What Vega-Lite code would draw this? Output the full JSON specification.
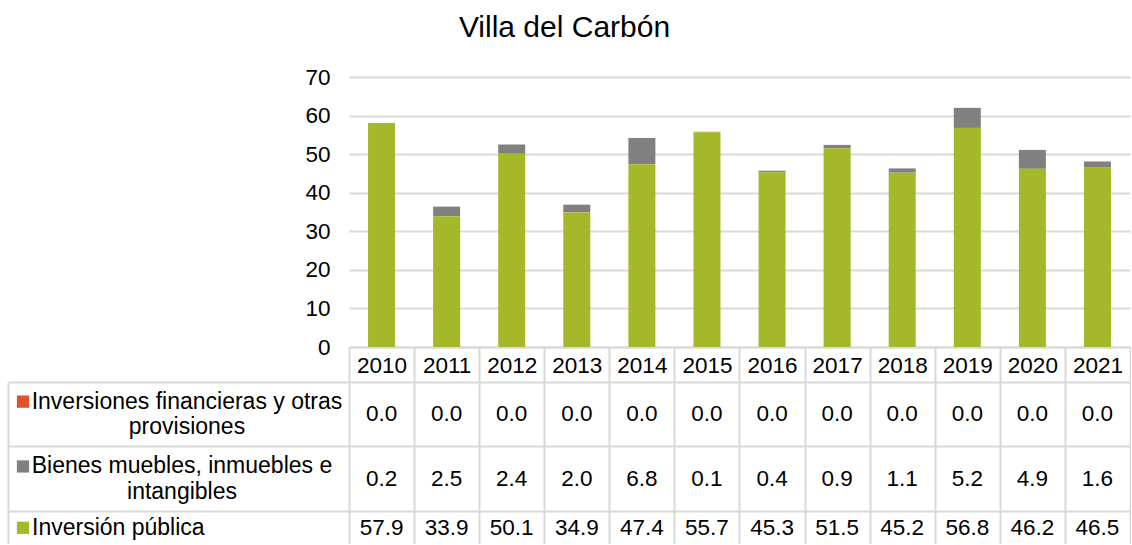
{
  "$schema": "https://vega.github.io/schema/vega-lite/v6.json",
  "padding": {"left": 8, "top": 13, "right": 0, "bottom": 0},
  "bounds": "flush",
  "columns": 2,
  "spacing": {"row": 35, "column": 0},
  "title": {"text": "Villa del Carbón", "fontSize": 30, "fontWeight": "normal", "color": "#000000", "anchor": "middle", "baseline": "alphabetic", "offset": -1, "dx": -5, "font": "Liberation Sans"},
  "config": {
    "font": "Liberation Sans",
    "view": {"stroke": null},
    "axis": {"labelColor": "#000000", "labelFont": "Liberation Sans"}
  },
  "datasets": {
    "d": [
      {"year": 2010, "serie": "Inversiones financieras y otras\nprovisiones", "value": 0.0},
      {"year": 2011, "serie": "Inversiones financieras y otras\nprovisiones", "value": 0.0},
      {"year": 2012, "serie": "Inversiones financieras y otras\nprovisiones", "value": 0.0},
      {"year": 2013, "serie": "Inversiones financieras y otras\nprovisiones", "value": 0.0},
      {"year": 2014, "serie": "Inversiones financieras y otras\nprovisiones", "value": 0.0},
      {"year": 2015, "serie": "Inversiones financieras y otras\nprovisiones", "value": 0.0},
      {"year": 2016, "serie": "Inversiones financieras y otras\nprovisiones", "value": 0.0},
      {"year": 2017, "serie": "Inversiones financieras y otras\nprovisiones", "value": 0.0},
      {"year": 2018, "serie": "Inversiones financieras y otras\nprovisiones", "value": 0.0},
      {"year": 2019, "serie": "Inversiones financieras y otras\nprovisiones", "value": 0.0},
      {"year": 2020, "serie": "Inversiones financieras y otras\nprovisiones", "value": 0.0},
      {"year": 2021, "serie": "Inversiones financieras y otras\nprovisiones", "value": 0.0},
      {"year": 2010, "serie": "Bienes muebles, inmuebles e\nintangibles", "value": 0.2},
      {"year": 2011, "serie": "Bienes muebles, inmuebles e\nintangibles", "value": 2.5},
      {"year": 2012, "serie": "Bienes muebles, inmuebles e\nintangibles", "value": 2.4},
      {"year": 2013, "serie": "Bienes muebles, inmuebles e\nintangibles", "value": 2.0},
      {"year": 2014, "serie": "Bienes muebles, inmuebles e\nintangibles", "value": 6.8},
      {"year": 2015, "serie": "Bienes muebles, inmuebles e\nintangibles", "value": 0.1},
      {"year": 2016, "serie": "Bienes muebles, inmuebles e\nintangibles", "value": 0.4},
      {"year": 2017, "serie": "Bienes muebles, inmuebles e\nintangibles", "value": 0.9},
      {"year": 2018, "serie": "Bienes muebles, inmuebles e\nintangibles", "value": 1.1},
      {"year": 2019, "serie": "Bienes muebles, inmuebles e\nintangibles", "value": 5.2},
      {"year": 2020, "serie": "Bienes muebles, inmuebles e\nintangibles", "value": 4.9},
      {"year": 2021, "serie": "Bienes muebles, inmuebles e\nintangibles", "value": 1.6},
      {"year": 2010, "serie": "Inversión pública", "value": 57.9},
      {"year": 2011, "serie": "Inversión pública", "value": 33.9},
      {"year": 2012, "serie": "Inversión pública", "value": 50.1},
      {"year": 2013, "serie": "Inversión pública", "value": 34.9},
      {"year": 2014, "serie": "Inversión pública", "value": 47.4},
      {"year": 2015, "serie": "Inversión pública", "value": 55.7},
      {"year": 2016, "serie": "Inversión pública", "value": 45.3},
      {"year": 2017, "serie": "Inversión pública", "value": 51.5},
      {"year": 2018, "serie": "Inversión pública", "value": 45.2},
      {"year": 2019, "serie": "Inversión pública", "value": 56.8},
      {"year": 2020, "serie": "Inversión pública", "value": 46.2},
      {"year": 2021, "serie": "Inversión pública", "value": 46.5}
    ],
    "labels": [
      {"serie": "Inversiones financieras y otras\nprovisiones"},
      {"serie": "Bienes muebles, inmuebles e\nintangibles"},
      {"serie": "Inversión pública"}
    ]
  },
  "concat": [
    {
      "width": 341, "height": 270,
      "data": {"values": []},
      "mark": "text",
      "encoding": {}
    },
    {
      "width": 781, "height": 270,
      "data": {"name": "d"},
      "mark": {"type": "bar", "width": {"band": 0.415}},
      "encoding": {
        "x": {
          "field": "year", "type": "ordinal",
          "scale": {"type": "band", "paddingInner": 0, "paddingOuter": 0},
          "axis": {"title": null, "labelAngle": 0, "labelFontSize": 22.5, "labelBaseline": "middle", "labelPadding": -17,
                   "domain": true, "domainColor": "#d9d9d9", "domainWidth": 2,
                   "ticks": true, "tickBand": "extent", "tickSize": 35, "tickColor": "#d9d9d9", "tickWidth": 2,
                   "grid": false}
        },
        "y": {
          "field": "value", "type": "quantitative",
          "scale": {"domain": [0, 70], "nice": false},
          "axis": {"title": null, "values": [0, 10, 20, 30, 40, 50, 60, 70], "labelFontSize": 22.5, "labelPadding": 19,
                   "domain": false, "ticks": false, "grid": true, "gridColor": "#d9d9d9", "gridWidth": 2}
        },
        "color": {
          "field": "serie", "type": "nominal",
          "scale": {"domain": ["Inversiones financieras y otras\nprovisiones", "Bienes muebles, inmuebles e\nintangibles", "Inversión pública"],
                    "range": ["#E0522A", "#808080", "#A5B82A"]},
          "legend": null
        },
        "order": {"field": "value", "type": "quantitative", "sort": "descending"}
      }
    },
    {
      "width": 341, "height": 162,
      "data": {"name": "labels"},
      "encoding": {
        "y": {
          "field": "serie", "type": "nominal",
          "scale": {"type": "band", "paddingInner": 0, "paddingOuter": 0,
                    "domain": ["Inversiones financieras y otras\nprovisiones", "_a", "Bienes muebles, inmuebles e\nintangibles", "_b", "Inversión pública"]},
          "axis": {"title": null, "labels": false, "ticks": false, "domain": true, "domainColor": "#d9d9d9", "domainWidth": 2,
                   "grid": true, "gridColor": "#d9d9d9", "gridWidth": 2, "bandPosition": 0,
                   "values": ["Inversiones financieras y otras\nprovisiones", "Bienes muebles, inmuebles e\nintangibles", "Inversión pública"]}
        }
      },
      "layer": [
        {
          "transform": [{"filter": {"field": "serie", "equal": "Inversiones financieras y otras\nprovisiones"}}],
          "mark": {"type": "text", "align": "center", "baseline": "middle", "fontSize": 23, "lineBreak": "\n", "lineHeight": 25.5, "dx": 8.5, "dy": -12.75, "color": "#000000"},
          "encoding": {"y": {"field": "serie", "type": "nominal", "bandPosition": 1}, "text": {"field": "serie"}}
        },
        {
          "transform": [{"filter": {"field": "serie", "equal": "Bienes muebles, inmuebles e\nintangibles"}}],
          "mark": {"type": "text", "align": "center", "baseline": "middle", "fontSize": 23, "lineBreak": "\n", "lineHeight": 25.5, "dx": 3.5, "dy": -12.75, "color": "#000000"},
          "encoding": {"y": {"field": "serie", "type": "nominal", "bandPosition": 1}, "text": {"field": "serie"}}
        },
        {
          "transform": [{"filter": {"field": "serie", "equal": "Inversión pública"}}],
          "mark": {"type": "text", "align": "left", "baseline": "middle", "fontSize": 23, "dx": -146.5, "color": "#000000"},
          "encoding": {"y": {"field": "serie", "type": "nominal", "bandPosition": 0.5}, "text": {"field": "serie"}}
        },
        {
          "transform": [{"filter": {"field": "serie", "oneOf": ["Inversiones financieras y otras\nprovisiones", "Bienes muebles, inmuebles e\nintangibles"]}}],
          "mark": {"type": "square", "size": 150, "filled": true, "opacity": 1, "xOffset": -155.5, "yOffset": -12.75},
          "encoding": {
            "y": {"field": "serie", "type": "nominal", "bandPosition": 1},
            "color": {"field": "serie", "type": "nominal",
                      "scale": {"domain": ["Inversiones financieras y otras\nprovisiones", "Bienes muebles, inmuebles e\nintangibles", "Inversión pública"],
                                "range": ["#E0522A", "#808080", "#A5B82A"]}, "legend": null}
          }
        },
        {
          "transform": [{"filter": {"field": "serie", "equal": "Inversión pública"}}],
          "mark": {"type": "square", "size": 150, "filled": true, "opacity": 1, "xOffset": -155.5},
          "encoding": {
            "y": {"field": "serie", "type": "nominal", "bandPosition": 0.5},
            "color": {"field": "serie", "type": "nominal",
                      "scale": {"domain": ["Inversiones financieras y otras\nprovisiones", "Bienes muebles, inmuebles e\nintangibles", "Inversión pública"],
                                "range": ["#E0522A", "#808080", "#A5B82A"]}, "legend": null}
          }
        }
      ]
    },
    {
      "width": 781, "height": 162,
      "data": {"name": "d"},
      "encoding": {
        "x": {
          "field": "year", "type": "ordinal",
          "scale": {"type": "band", "paddingInner": 0, "paddingOuter": 0},
          "axis": {"title": null, "labels": false, "ticks": false, "domain": false, "grid": true, "tickBand": "extent", "gridColor": "#d9d9d9", "gridWidth": 2}
        },
        "y": {
          "field": "serie", "type": "nominal",
          "scale": {"type": "band", "paddingInner": 0, "paddingOuter": 0,
                    "domain": ["Inversiones financieras y otras\nprovisiones", "_a", "Bienes muebles, inmuebles e\nintangibles", "_b", "Inversión pública"]},
          "axis": {"title": null, "labels": false, "ticks": false, "domain": false,
                   "grid": true, "gridColor": "#d9d9d9", "gridWidth": 2, "bandPosition": 0,
                   "values": ["Inversiones financieras y otras\nprovisiones", "Bienes muebles, inmuebles e\nintangibles", "Inversión pública"]}
        },
        "text": {"field": "value", "type": "quantitative", "format": ".1f"}
      },
      "layer": [
        {
          "transform": [{"filter": {"field": "serie", "oneOf": ["Inversiones financieras y otras\nprovisiones", "Bienes muebles, inmuebles e\nintangibles"]}}],
          "mark": {"type": "text", "baseline": "middle", "fontSize": 22.5, "color": "#000000"},
          "encoding": {"y": {"field": "serie", "type": "nominal", "bandPosition": 1}}
        },
        {
          "transform": [{"filter": {"field": "serie", "equal": "Inversión pública"}}],
          "mark": {"type": "text", "baseline": "middle", "fontSize": 22.5, "color": "#000000"},
          "encoding": {"y": {"field": "serie", "type": "nominal", "bandPosition": 0.5}}
        }
      ]
    }
  ]
}
